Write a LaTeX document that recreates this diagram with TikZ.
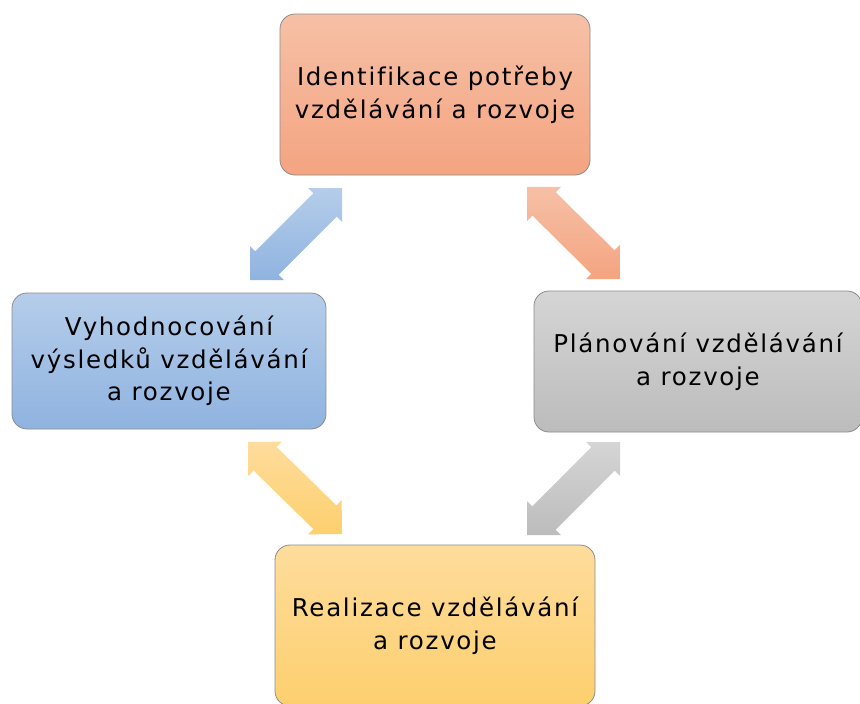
\documentclass[tikz,border=0pt]{standalone}
\usepackage{fontspec}
\setmainfont[LetterSpace=7, Ligatures=NoCommon]{DejaVu Sans}
\usetikzlibrary{calc}
\tikzset{
  boxst/.style={draw=black!45, line width=0.8pt, rounded corners=15pt, align=center,
    font=\fontsize{24.5}{32.5}\selectfont, text=black, inner sep=0pt},
  orangebox/.style={top color=orange1top, bottom color=orange1bot},
  bluebox/.style={top color=blue1top, bottom color=blue1bot},
  graybox/.style={top color=gray1top, bottom color=gray1bot},
  yellowbox/.style={top color=yellow1top, bottom color=yellow1bot},
}
\definecolor{orange1top}{HTML}{F6C0A6}
\definecolor{orange1bot}{HTML}{F4A481}
\definecolor{blue1top}{HTML}{B5CDEA}
\definecolor{blue1bot}{HTML}{8FB3E0}
\definecolor{gray1top}{HTML}{D5D5D5}
\definecolor{gray1bot}{HTML}{BCBCBC}
\definecolor{yellow1top}{HTML}{FEDC9C}
\definecolor{yellow1bot}{HTML}{FDCF6E}
\newcommand\blockarr[3]{%
  \shade[#3] (#1)
    -- ($(#1)!24pt!(#2)!24pt!90:(#2)$)
    -- ($(#1)!24pt!(#2)!16.5pt!90:(#2)$)
    -- ($(#2)!24pt!(#1)!16.5pt!-90:(#1)$)
    -- ($(#2)!24pt!(#1)!24pt!-90:(#1)$)
    -- (#2)
    -- ($(#2)!24pt!(#1)!24pt!90:(#1)$)
    -- ($(#2)!24pt!(#1)!16.5pt!90:(#1)$)
    -- ($(#1)!24pt!(#2)!16.5pt!-90:(#2)$)
    -- ($(#1)!24pt!(#2)!24pt!-90:(#2)$)
    -- cycle;}
\begin{document}
\begin{tikzpicture}[x=1pt,y=-1pt]
\useasboundingbox (0,0) rectangle (860,704);
\node[boxst, orangebox, minimum width=310pt, minimum height=161pt] (ident) at (435,94.5)
  {Identifikace potřeby\\vzdělávání a rozvoje};
\node[boxst, bluebox, minimum width=314pt, minimum height=136pt] (vyhod) at (169,361)
  {Vyhodnocování\\výsledků vzdělávání\\a rozvoje};
\node[boxst, graybox, minimum width=328pt, minimum height=141pt] (plan) at (698,361.5)
  {Plánování vzdělávání\\a rozvoje};
\node[boxst, yellowbox, minimum width=320pt, minimum height=161pt] (real) at (435,625.5)
  {Realizace vzdělávání\\a rozvoje};
\coordinate (b1) at (250,280); \coordinate (b2) at (342,188);
\coordinate (o1) at (527,187); \coordinate (o2) at (620,279);
\coordinate (y1) at (248,442); \coordinate (y2) at (342,534);
\coordinate (g1) at (620,442); \coordinate (g2) at (527,535);
\blockarr{b1}{b2}{top color=blue1top, bottom color=blue1bot}
\blockarr{o1}{o2}{top color=orange1top, bottom color=orange1bot}
\blockarr{y1}{y2}{top color=yellow1top, bottom color=yellow1bot}
\blockarr{g1}{g2}{top color=gray1top, bottom color=gray1bot}
\end{tikzpicture}
\end{document}
